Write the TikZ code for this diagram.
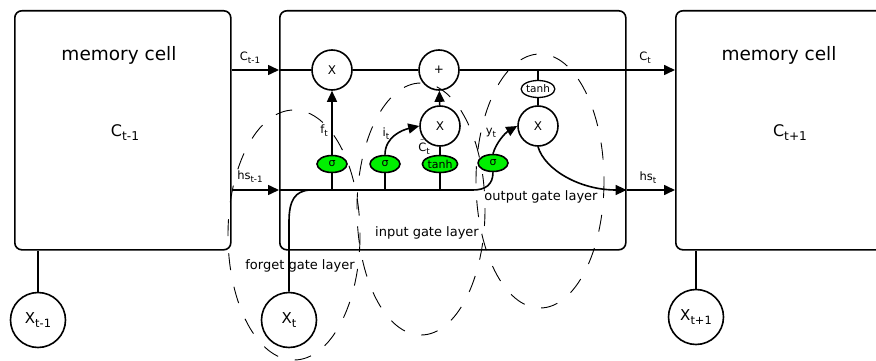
\documentclass[tikz,border=0pt]{standalone}
\usepackage{fontspec}
\setmainfont{DejaVu Sans}
\usetikzlibrary{shapes.geometric,arrows.meta}
\definecolor{gatecol}{RGB}{0,240,0}
\newcommand\sbs[1]{\raisebox{-0.45ex}{\scalebox{0.76}{#1}}}
\begin{document}
\begin{tikzpicture}[x=1pt,y=-1pt,
  line width=1.6pt, line join=round,
  arr/.style={-{Triangle[length=11pt,width=10pt]}},
  cellbox/.style={draw, rounded corners=7pt, anchor=north west, minimum height=239pt, inner sep=0pt},
  opcirc/.style={draw, circle, minimum size=40pt, inner sep=0pt, fill=white, font=\fontsize{12}{14}\selectfont},
  incirc/.style={draw, circle, minimum size=55pt, inner sep=0pt, fill=white, font=\fontsize{15}{17}\selectfont},
  gate/.style={draw, ellipse, fill=gatecol, minimum width=30pt, minimum height=17pt, inner sep=0pt, font=\fontsize{11}{12}\selectfont},
  tanhbox/.style={draw, ellipse, fill=white, minimum width=28pt, minimum height=17pt, inner sep=0pt, line width=1.3pt, font=\fontsize{10.5}{12}\selectfont},
  lbl/.style={font=\fontsize{11.5}{14}\selectfont, inner sep=0pt},
  layerlbl/.style={font=\fontsize{13}{15}\selectfont, inner sep=0pt},
  titlelbl/.style={font=\fontsize{18.5}{20}\selectfont, inner sep=0pt},
  biglbl/.style={font=\fontsize{16}{18}\selectfont, inner sep=0pt},
  region/.style={draw, line width=0.9pt, dash pattern=on 17pt off 17pt},
]
\useasboundingbox (0,0) rectangle (876,361);
\clip (0,0) rectangle (876,361);

% cell boxes
\node[cellbox, minimum width=216pt] (left) at (14,10) {};
\node[cellbox, minimum width=346pt] (mid) at (279,10) {};
\node[cellbox, minimum width=240pt] (right) at (675,10) {};

\node[titlelbl] (lt) at (119,55) {memory cell};
\node[titlelbl] (rt) at (779,55) {memory cell};
\node[biglbl] (lc) at (125,133) {C\sbs{t-1}};
\node[biglbl] (rc) at (790,133) {C\sbs{t+1}};

% helper coordinates
\coordinate (hsL) at (279,190);
\coordinate (hsB) at (473,190);
\coordinate (xtB) at (289,222);
\coordinate (xtJ) at (310,190);

% operation nodes
\node[opcirc] (fx) at (332,70) {X};
\node[opcirc] (plus) at (439,70) {+};
\node[opcirc] (ix) at (440,126) {X};
\node[opcirc] (ox) at (538,126) {X};
\node[tanhbox] (th) at (538,89) {tanh};

\node[gate] (fg) at (332,164) {σ};
\node[gate] (ig) at (385,164) {σ};
\node[gate] (cg) at (440,164) {tanh};
\node[gate] (og) at (493,163) {σ};

% inputs
\node[incirc] (xm1) at (38,320) {X\sbs{t-1}};
\node[incirc] (xt) at (289,320) {X\sbs{t}};
\node[incirc] (xp1) at (696,317) {X\sbs{t+1}};

% cell state line
\draw[arr] (left.east |- fx) -- (mid.west |- fx);
\draw (mid.west |- fx) -- (fx);
\draw (fx) -- (plus);
\draw[arr] (plus) -- (right.west |- plus);
\draw (th) -- (th |- plus);

% hidden state line
\draw[arr] (left.east |- hsL) -- (hsL);
\draw (hsL) -- (hsB) .. controls (485,190) and (493,185) .. (og.south);
\draw (fg.south) -- (fg |- hsL);
\draw (ig.south) -- (ig |- hsL);
\draw (cg.south) -- (cg |- hsL);

% gate connections
\draw[arr] (fg) -- (fx);
\draw[arr] (ig.north) .. controls (385,137) and (402,130) .. (ix.west);
\draw (cg) -- (ix);
\draw[arr] (ix) -- (plus);
\draw[arr] (og.north) .. controls (496,143) and (505,133) .. (ox.west);
\draw (ox) -- (th);
\draw[arr] (ox.south) .. controls (545,170) and (580,190) .. (mid.east |- hsL);
\draw[arr] (mid.east |- hsL) -- (right.west |- hsL);

% inputs to cells
\draw (xt.north) -- (xtB) .. controls (289,200) and (295,191) .. (xtJ);
\draw (xm1.north) -- (xm1 |- left.south);
\draw (xp1.north) -- (xp1 |- right.south);

% small labels
\node[lbl] (lc1) at (250,58) {C\sbs{t-1}};
\node[lbl] (lct) at (645,58) {C\sbs{t}};
\node[lbl] (lh1) at (250,177) {hs\sbs{t-1}};
\node[lbl] (lht) at (648,178) {hs\sbs{t}};
\node[lbl] (lf) at (324,131) {f\sbs{t}};
\node[lbl] (li) at (386,134) {i\sbs{t}};
\node[lbl] (lcc) at (424,147) {$\tilde{\mbox{C}}$\sbs{t}};
\node[lbl] (ly) at (491,133) {y\sbs{t}};

% layer regions
\draw[region] (294,235) ellipse [x radius=66, y radius=125];
\draw[region] (421,209) ellipse [x radius=64, y radius=126];
\draw[region] (540,181) ellipse [x radius=64, y radius=127];

\node[layerlbl] (lfg) at (300,266) {forget gate layer};
\node[layerlbl] (lig) at (427,233) {input gate layer};
\node[layerlbl] (log) at (541,197) {output gate layer};
\end{tikzpicture}
\end{document}
